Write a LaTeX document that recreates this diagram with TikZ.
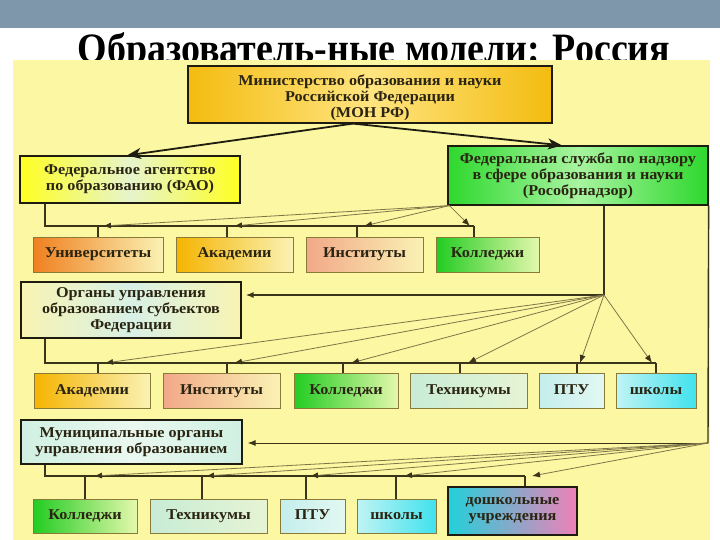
\documentclass[tikz,border=0pt]{standalone}
\usepackage{fontspec}
\usepackage{graphicx}
\setmainfont{Liberation Serif}[FakeStretch=1.08]
\newfontfamily\titlefont{Liberation Serif}
\usetikzlibrary{arrows.meta,calc}
\definecolor{band}{HTML}{7F97AB}
\definecolor{panel}{HTML}{FBF7A2}
\definecolor{txt}{HTML}{2A2412}
\definecolor{bigline}{HTML}{1E1C10}
\definecolor{smline}{HTML}{8A7A3A}
\definecolor{busc}{HTML}{3A3418}
\definecolor{fanc}{HTML}{7E7648}
\definecolor{gold}{HTML}{F3BC10}
\definecolor{goldl}{HTML}{FFE480}
\definecolor{yel}{HTML}{FFFF22}
\definecolor{yell}{HTML}{E6F4CC}
\definecolor{grn}{HTML}{2ED82E}
\definecolor{grnl}{HTML}{A8F4A0}
\definecolor{orng}{HTML}{F08020}
\definecolor{pale}{HTML}{FAF2B4}
\definecolor{amber}{HTML}{F5B400}
\definecolor{salmon}{HTML}{F2A888}
\definecolor{kgrn}{HTML}{22CC22}
\definecolor{kgrnl}{HTML}{E4F8AC}
\definecolor{orgl}{HTML}{F8F4B2}
\definecolor{orgc}{HTML}{D8F0E6}
\definecolor{mint}{HTML}{C8ECD6}
\definecolor{mintl}{HTML}{E6F4D4}
\definecolor{ptu}{HTML}{C4EEEC}
\definecolor{ptul}{HTML}{E2F8F2}
\definecolor{cyanl}{HTML}{C0F4F4}
\definecolor{cyand}{HTML}{40E2EE}
\definecolor{munc}{HTML}{D0F0E2}
\definecolor{munl}{HTML}{EAF8F0}
\definecolor{doshl}{HTML}{22D0DA}
\definecolor{doshr}{HTML}{F080B8}
\tikzset{
  g3/.style n args={2}{left color=#1, right color=#1, middle color=#2},
  g2/.style n args={2}{left color=#1, right color=#2},
  boxtext/.style={inner sep=0pt, align=center, text=txt,
    font=\fontsize{15}{16}\selectfont\bfseries},
  bigbox/.style={boxtext, draw=bigline, line width=1.2pt},
  smbox/.style={boxtext, draw=smline, line width=1pt, minimum height=35pt,
    text height=10.5pt, text depth=3.5pt},
  bus/.style={draw=busc, line width=1.4pt},
  fan/.style={draw=fanc, line width=0.8pt, -{Latex[length=8pt,width=6pt,color=busc]}},
  thickarrow/.style={draw=bigline, line width=1.8pt, -{Stealth[length=14pt,width=11pt,inset=4pt]}}
}
\begin{document}
\begin{tikzpicture}[x=1pt,y=-1pt]
\useasboundingbox (0,0) rectangle (720,540);
\fill[white] (0,0) rectangle (720,540);
\fill[band] (0,0) rectangle (720,28);
\begin{scope}
\clip (0,28) rectangle (720,60);
\node[anchor=base, inner sep=0pt, font=\titlefont\fontsize{37}{37}\selectfont\bfseries] (title) at (374,63) {\scalebox{1.026}[1.13]{Образователь-ные модели: Россия}};
\end{scope}
\fill[panel] (13,60) rectangle (710,540);

% main boxes
\node[bigbox, g3={gold}{goldl}, minimum width=364pt, minimum height=57pt] (mon) at (370,94.5) {};
\node[boxtext] (montext) at ([yshift=-3pt]mon.center) {Министерство образования и науки\\Российской Федерации\\(МОН РФ)};
\node[bigbox, g3={yel}{yell}, minimum width=220pt, minimum height=47pt] (fao) at (130,179.5) {Федеральное агентство\\по образованию (ФАО)};
\node[bigbox, g3={grn}{grnl}, minimum width=260pt, minimum height=59pt] (roso) at (578,175.5) {Федеральная служба по надзору\\в сфере образования и науки\\(Рособрнадзор)};
\node[bigbox, g3={orgl}{orgc}, minimum width=220pt, minimum height=56pt] (org) at (131,310) {Органы управления\\образованием субъектов\\Федерации};
\node[bigbox, g3={munc}{munl}, minimum width=221pt, minimum height=44pt] (mun) at (131.5,442) {Муниципальные органы\\управления образованием};

% row 1
\node[smbox, g2={orng}{pale}, minimum width=130pt] (u1) at (98,254.5) {Университеты};
\node[smbox, g2={amber}{pale}, minimum width=117pt] (a1) at (234.5,254.5) {Академии};
\node[smbox, g2={salmon}{pale}, minimum width=117pt] (i1) at (364.5,254.5) {Институты};
\node[smbox, g2={kgrn}{kgrnl}, minimum width=103pt] (k1) at (487.5,254.5) {Колледжи};

% row 2
\node[smbox, g2={amber}{pale}, minimum width=116pt] (a2) at (92,390.5) {Академии};
\node[smbox, g2={salmon}{pale}, minimum width=117pt] (i2) at (221.5,390.5) {Институты};
\node[smbox, g2={kgrn}{kgrnl}, minimum width=104pt] (k2) at (346,390.5) {Колледжи};
\node[smbox, g2={mint}{mintl}, minimum width=117pt] (t2) at (468.5,390.5) {Техникумы};
\node[smbox, g2={ptu}{ptul}, minimum width=65pt] (p2) at (571.5,390.5) {ПТУ};
\node[smbox, g2={cyanl}{cyand}, minimum width=80pt] (s2) at (656,390.5) {школы};

% row 3
\node[smbox, g2={kgrn}{kgrnl}, minimum width=104pt, minimum height=34pt] (k3) at (85,516) {Колледжи};
\node[smbox, g2={mint}{mintl}, minimum width=117pt, minimum height=34pt] (t3) at (208.5,516) {Техникумы};
\node[smbox, g2={ptu}{ptul}, minimum width=65pt, minimum height=34pt] (p3) at (312.5,516) {ПТУ};
\node[smbox, g2={cyanl}{cyand}, minimum width=79pt, minimum height=34pt] (s3) at (396.5,516) {школы};
\node[bigbox, g2={doshl}{doshr}, line width=1.4pt, minimum width=129pt, minimum height=48pt] (d3) at (512.5,511) {дошкольные\\учреждения};

% arrows from ministry
\draw[thickarrow] ([xshift=-17pt]mon.south) -- ([xshift=-3pt]fao.north);
\draw[thickarrow] ([xshift=-17pt]mon.south) -- ([xshift=-16pt]roso.north);

% bus 1
\coordinate (b1a) at (45,226);
\coordinate (b1e) at (474,226);
\coordinate (v11) at (98,226);
\coordinate (v12) at (227,226);
\coordinate (v13) at (357,226);
\coordinate (v14) at (474,226);
\draw[bus] (fao.south -| b1a) -- (b1a) -- (b1e);
\draw[bus] (v11) -- (u1.north -| v11);
\draw[bus] (v12) -- (a1.north -| v12);
\draw[bus] (v13) -- (i1.north -| v13);
\draw[bus] (v14) -- (k1.north -| v14);
\coordinate (f1) at ([xshift=2pt]roso.south west);
\coordinate (t11) at (103,226);
\coordinate (t12) at (234,226);
\coordinate (t13) at (364,226);
\coordinate (t14) at (470,226);
\draw[fan] (f1) -- (t11);
\draw[fan] (f1) -- (t12);
\draw[fan] (f1) -- (t13);
\draw[fan] (f1) -- (t14);

% bus 2
\coordinate (f2) at (604,295);
\draw[bus] (roso.south -| f2) -- (f2);
\draw[bus, -{Latex[length=8pt,width=6pt]}] (f2) -- ([xshift=4pt]org.east |- f2);
\coordinate (b2a) at (45,363);
\coordinate (b2e) at (656,363);
\draw[bus] (org.south -| b2a) -- (b2a) -- (b2e);
\coordinate (v21) at (98,363);
\coordinate (v22) at (227,363);
\coordinate (v23) at (343,363);
\coordinate (v24) at (460,363);
\coordinate (v25) at (577,363);
\coordinate (v26) at (656,363);
\draw[bus] (v21) -- (a2.north -| v21);
\draw[bus] (v22) -- (i2.north -| v22);
\draw[bus] (v23) -- (k2.north -| v23);
\draw[bus] (v24) -- (t2.north -| v24);
\draw[bus] (v25) -- (p2.north -| v25);
\draw[bus] (v26) -- (s2.north -| v26);
\coordinate (t21) at (105,363);
\coordinate (t22) at (234,363);
\coordinate (t23) at (351,363);
\coordinate (t24) at (468,363);
\coordinate (t25) at (580,363);
\coordinate (t26) at (652,363);
\draw[fan] (f2) -- (t21);
\draw[fan] (f2) -- (t22);
\draw[fan] (f2) -- (t23);
\draw[fan] (f2) -- (t24);
\draw[fan] (f2) -- (t25);
\draw[fan] (f2) -- (t26);

% bus 3
\coordinate (f3) at (708,443);
\draw[bus] (roso.south east) -- (f3);
\draw[bus, line width=1pt, -{Latex[length=8pt,width=6pt]}] (f3) -- ([xshift=5pt]mun.east |- f3);
\coordinate (b3a) at (45,476);
\coordinate (b3e) at (525,476);
\draw[bus] (mun.south -| b3a) -- (b3a) -- (b3e);
\coordinate (v31) at (85,476);
\coordinate (v32) at (202,476);
\coordinate (v33) at (306,476);
\coordinate (v34) at (396,476);
\coordinate (v35) at (525,476);
\draw[bus] (v31) -- (k3.north -| v31);
\draw[bus] (v32) -- (t3.north -| v32);
\draw[bus] (v33) -- (p3.north -| v33);
\draw[bus] (v34) -- (s3.north -| v34);
\draw[bus] (v35) -- (d3.north -| v35);
\coordinate (t31) at (94,476);
\coordinate (t32) at (206,476);
\coordinate (t33) at (310,476);
\coordinate (t34) at (404,476);
\coordinate (t35) at (532,476);
\draw[fan] (f3) -- (t31);
\draw[fan] (f3) -- (t32);
\draw[fan] (f3) -- (t33);
\draw[fan] (f3) -- (t34);
\draw[fan] (f3) -- (t35);
\end{tikzpicture}
\end{document}
